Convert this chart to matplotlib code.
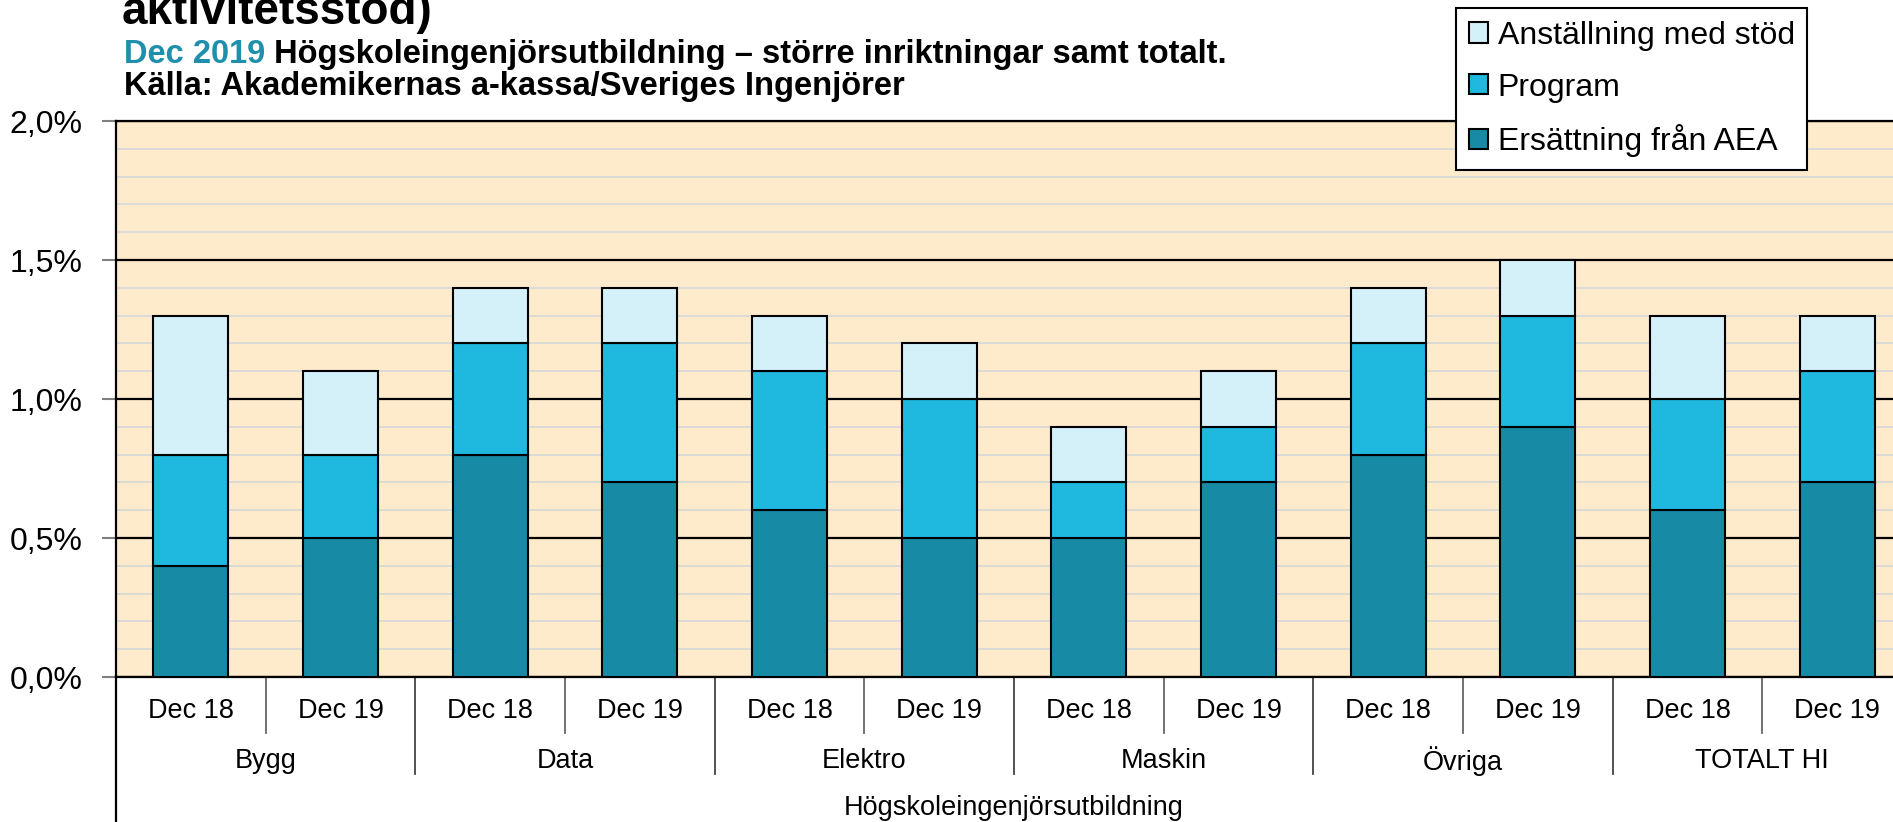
import numpy as np
import matplotlib.pyplot as plt
import matplotlib.transforms as mtransforms
from matplotlib.patches import Patch

plt.rcParams['font.family'] = ['Liberation Sans', 'DejaVu Sans']

# data (share of members, %)
groups = ['Bygg', 'Data', 'Elektro', 'Maskin', 'Övriga', 'TOTALT HI']
periods = ['Dec 18', 'Dec 19']
ersattning = [0.4, 0.5, 0.8, 0.7, 0.6, 0.5, 0.5, 0.7, 0.8, 0.9, 0.6, 0.7]
program = [0.4, 0.3, 0.4, 0.5, 0.5, 0.5, 0.2, 0.2, 0.4, 0.4, 0.4, 0.4]
anstallning = [0.5, 0.3, 0.2, 0.2, 0.2, 0.2, 0.2, 0.2, 0.2, 0.2, 0.3, 0.2]
series_names = ['Ersättning från AEA', 'Program', 'Anställning med stöd']
ytick_vals = [0.0, 0.5, 1.0, 1.5, 2.0]
ytick_labels = ['0,0%', '0,5%', '1,0%', '1,5%', '2,0%']

c_dark = '#178BA6'
c_mid = '#1FB8DE'
c_light = '#D4F0F8'
c_teal_text = '#1F8FAC'

W, H = 1893, 822
fig = plt.figure(figsize=(W / 100, H / 100), dpi=100)
ax = fig.add_axes([116 / W, 145 / H, 1796 / W, 556 / H])
ax.set_facecolor('#FEEBCC')

# stacked bars
x = np.arange(len(ersattning))
bottom = np.zeros(len(x))
for vals, col in zip([ersattning, program, anstallning], [c_dark, c_mid, c_light]):
    ax.bar(x, vals, 0.5, bottom=bottom, color=col, edgecolor='black', linewidth=1.5, zorder=3)
    bottom += np.array(vals)

ax.set_xlim(-0.5, len(x) - 0.5)
ax.set_ylim(0, 2.0)
ax.set_yticks(ytick_vals)
ax.set_yticklabels(ytick_labels)
ax.set_yticks(np.arange(0, 2.01, 0.1), minor=True)
ax.set_xticks([])
ax.tick_params(axis='y', which='major', length=10, width=1.5, color='#808080', labelsize=23, pad=14)
ax.tick_params(axis='y', which='minor', length=0)
ax.grid(which='minor', axis='y', color='#D9D9D9', linewidth=1.3, zorder=1)
ax.grid(which='major', axis='y', color='black', linewidth=1.6, zorder=2)
ax.set_axisbelow(True)
for sp in ax.spines.values():
    sp.set_color('black')
    sp.set_linewidth(1.6)

# multi-level category axis
trans = mtransforms.blended_transform_factory(ax.transData, ax.transAxes)
for i in range(len(groups)):
    ax.plot([2 * i + 0.5] * 2, [0, -0.1], transform=trans, color='#666666', lw=1.3, clip_on=False)
    ax.plot([2 * i + 1.5] * 2, [0, -0.1745], transform=trans, color='#444444', lw=1.3, clip_on=False)
    ax.text(2 * i + 0.5, -0.151, groups[i], transform=trans, ha='center', va='center', fontsize=19.5)
    for j, p in enumerate(periods):
        ax.text(2 * i + j, -0.062, p, transform=trans, ha='center', va='center', fontsize=19.5)
ax.plot([-0.5, -0.5], [0, -0.27], transform=trans, color='black', lw=1.6, clip_on=False)
ax.text(5.5, -0.2356, 'Högskoleingenjörsutbildning', transform=trans,
        ha='center', va='center', fontsize=19.5)

# titles
fig.text(122 / W, 1 - 24 / H, 'aktivitetsstöd)', fontsize=33, fontweight='bold', va='baseline')
t1 = fig.text(124 / W, 1 - 63 / H, 'Dec 2019', fontsize=23.5, fontweight='bold',
              color=c_teal_text, va='baseline')
ax.annotate(' Högskoleingenjörsutbildning – större inriktningar samt totalt.',
            xy=(1, 0), xycoords=t1, va='bottom', ha='left', fontsize=23.5, fontweight='bold')
fig.text(124 / W, 1 - 95 / H, 'Källa: Akademikernas a-kassa/Sveriges Ingenjörer',
         fontsize=23.5, fontweight='bold', va='baseline')

# legend
handles = [Patch(facecolor=c, edgecolor='black', linewidth=1.5, label=n)
           for c, n in zip([c_light, c_mid, c_dark], series_names[::-1])]
leg = fig.legend(handles=handles, loc='upper left', bbox_to_anchor=(1456 / W, 1 - 8 / H),
                 bbox_transform=fig.transFigure, fontsize=23, frameon=True, fancybox=False,
                 edgecolor='black', framealpha=1, handlelength=0.6, handleheight=0.6,
                 handletextpad=0.3, labelspacing=0.68, borderpad=0.4, borderaxespad=0)
leg.get_frame().set_linewidth(1.5)

fig.savefig('out.png', dpi=100)
